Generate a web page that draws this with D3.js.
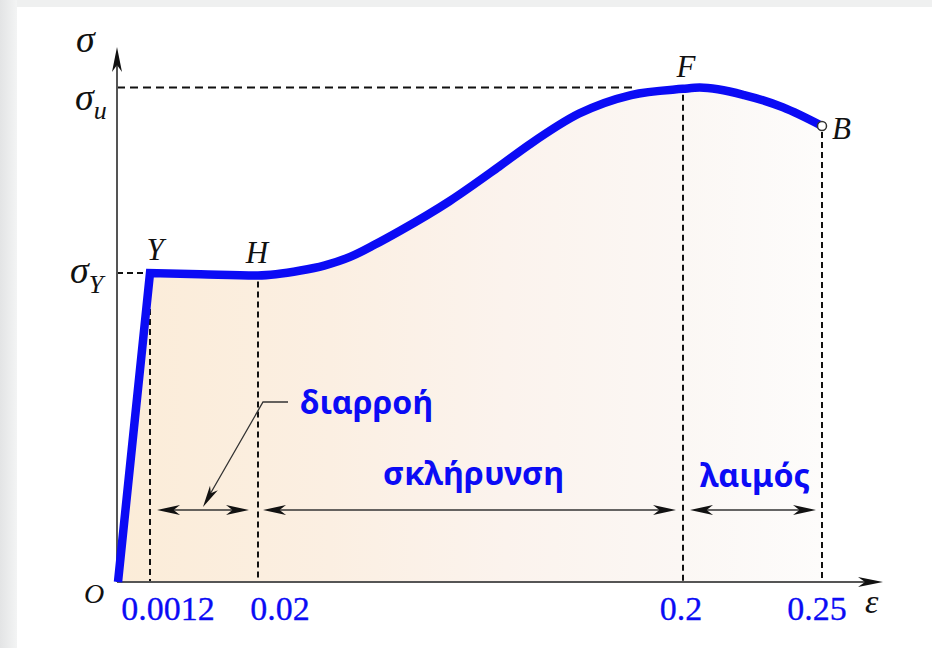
<!DOCTYPE html>
<html>
<head>
<meta charset="utf-8">
<script src="https://cdn.jsdelivr.net/npm/d3@7"></script>
<style>
  html, body { margin: 0; padding: 0; background: #fff; overflow: hidden; }
  svg { display: block; }
</style>
</head>
<body>
<svg id="chart" width="932" height="648"></svg>
<script>
// Engineering stress–strain curve of a ductile steel (schematic, strain axis not to scale)

// Curve samples: strain ε and stress σ (σ in arbitrary units, σY = 250, σu = 400)
const strain = [0, 0.0012, 0.01, 0.02, 0.038, 0.048, 0.059, 0.0695, 0.080, 0.101, 0.122, 0.135, 0.156, 0.178, 0.2, 0.206, 0.222, 0.236, 0.25];
const stress = [0, 250, 249, 248, 252, 256, 263, 273, 284, 308, 336, 354, 379, 394, 399, 400, 394, 384, 369];

const sigmaY = 250;
const sigmaU = 400;

// Strain axis ticks
const strainTicks = [0.0012, 0.02, 0.2, 0.25];
const tickLabels = ["0.0012", "0.02", "0.2", "0.25"];

// Named points on the curve
const pointNames = ["Y", "H", "F", "B"];
const pointStrain = [0.0012, 0.02, 0.2, 0.25];

// Regions of behaviour
const regionFrom = [0.0012, 0.02, 0.2];
const regionTo = [0.02, 0.2, 0.25];
const regionNames = ["διαρροή", "σκλήρυνση", "λαιμός"];

// ---------------------------------------------------------------------------
const svg = d3.select("#chart");
const W = 932, H = 648;
const BLUE = "#0b0bf5";
const serif = "'Liberation Serif', 'Times New Roman', serif";
const sans = "'Noto Sans', 'DejaVu Sans', sans-serif";

// Piecewise strain scale: each marked interval gets its own width
const x = d3.scaleLinear()
  .domain([0, 0.0012, 0.02, 0.2, 0.25])
  .range([118, 150, 258, 683, 822]);
const y = d3.scaleLinear().domain([0, sigmaU]).range([582, 87.6]);

const x0 = 117, y0 = y(0);

const defs = svg.append("defs");

// page backdrop: light grey frame at left and top
const lg = defs.append("linearGradient").attr("id", "sideGrad").attr("x1", 0).attr("x2", 1);
lg.append("stop").attr("offset", 0).attr("stop-color", "#e3e4e5");
lg.append("stop").attr("offset", 1).attr("stop-color", "#f3f4f4");
svg.append("rect").attr("x", 0).attr("y", 0).attr("width", W).attr("height", 7).attr("fill", "#eff0f0");
svg.append("rect").attr("x", 0).attr("y", 0).attr("width", 17).attr("height", H).attr("fill", "url(#sideGrad)");
svg.append("rect").attr("x", 17).attr("y", 7).attr("width", W - 17).attr("height", H - 7).attr("fill", "#ffffff");

// warm fill under the curve
const fg = defs.append("linearGradient").attr("id", "areaGrad")
  .attr("gradientUnits", "userSpaceOnUse")
  .attr("x1", x(0)).attr("x2", x(0.25)).attr("y1", 0).attr("y2", 0);
[[0, "#fbecd8"], [0.3, "#fbefe2"], [0.55, "#fbf3ed"], [0.8, "#fbf7f4"], [1, "#fdfcfb"]]
  .forEach(([o, c]) => fg.append("stop").attr("offset", o).attr("stop-color", c));

const pts = strain.map((e, i) => [x(e), y(stress[i])]);

// elastic part is straight, the rest is a smooth curve
const elastic = d3.line()(pts.slice(0, 2));
const plastic = d3.line().curve(d3.curveMonotoneX)(pts.slice(1));
const curvePath = elastic + "L" + plastic.slice(1);

svg.append("path")
  .attr("d", curvePath + `L${x(0.25)},${y0}Z`)
  .attr("fill", "url(#areaGrad)");

// dashed guide lines
const dash = (x1, y1, x2, y2, pattern) => svg.append("line")
  .attr("x1", x1).attr("y1", y1).attr("x2", x2).attr("y2", y2)
  .attr("stroke", "#111").attr("stroke-width", 2).attr("stroke-dasharray", pattern);

dash(x0, y(sigmaU), 632, y(sigmaU), "8,5");
dash(x0, y(sigmaY), x(0.0012) - 3, y(sigmaY), "6,4");
pointStrain.forEach((e) => {
  const k = strain.indexOf(e);
  dash(x(e), y(stress[k]) + 6, x(e), y0, "6,4");
});

// stealth-style arrowhead drawn at (tx,ty) pointing along angle a
function head(tx, ty, a, L, w, color) {
  const c = Math.cos(a), s = Math.sin(a);
  const p = (u, v) => [tx - u * c - v * s, ty - u * s + v * c];
  const P = [p(0, 0), p(L, -w), p(L * 0.72, 0), p(L, w)];
  svg.append("path")
    .attr("d", "M" + P.map(q => q.join(",")).join("L") + "Z")
    .attr("fill", color);
}

// axes
svg.append("line").attr("x1", x0).attr("y1", y0).attr("x2", x0).attr("y2", 60)
  .attr("stroke", "#555").attr("stroke-width", 2);
head(x0, 47, -Math.PI / 2, 25, 5, "#111");
svg.append("line").attr("x1", x0).attr("y1", y0).attr("x2", 870).attr("y2", y0)
  .attr("stroke", "#555").attr("stroke-width", 2);
head(883, y0, 0, 25, 5, "#111");

// the curve itself
svg.append("path")
  .attr("d", curvePath)
  .attr("fill", "none")
  .attr("stroke", BLUE)
  .attr("stroke-width", 8.5)
  .attr("stroke-linejoin", "miter");

// fracture point
svg.append("circle")
  .attr("cx", x(0.25)).attr("cy", y(stress[stress.length - 1]))
  .attr("r", 4.5).attr("fill", "#fff").attr("stroke", "#333").attr("stroke-width", 1.5);

// region dimension arrows
const arrowY = 510;
const pads = [[7, 9], [5, 7], [7, 6]];
regionFrom.forEach((a, i) => {
  const xa = x(a) + pads[i][0], xb = x(regionTo[i]) - pads[i][1];
  svg.append("line").attr("x1", xa + 10).attr("x2", xb - 10)
    .attr("y1", arrowY).attr("y2", arrowY)
    .attr("stroke", "#333").attr("stroke-width", 1.5);
  head(xa, arrowY, Math.PI, 23, 5, "#111");
  head(xb, arrowY, 0, 23, 5, "#111");
});

// region names
const regionText = [
  { x: 300, y: 414, len: 133 },
  { x: 383, y: 485, len: 181 },
  { x: 700, y: 487, len: 110 }
];
regionNames.forEach((t, i) => {
  svg.append("text")
    .attr("x", regionText[i].x).attr("y", regionText[i].y)
    .attr("font-family", sans).attr("font-weight", "bold").attr("font-size", 32)
    .attr("fill", BLUE)
    .attr("textLength", regionText[i].len).attr("lengthAdjust", "spacingAndGlyphs")
    .text(t);
});

// leader from the yield label to its arrow
const lx = 288, ly = 402, kx = 263, tipx = 203, tipy = 507;
svg.append("path")
  .attr("d", `M${lx},${ly}L${kx},${ly}L${tipx + 6},${tipy - 11}`)
  .attr("fill", "none").attr("stroke", "#333").attr("stroke-width", 1.3);
head(tipx, tipy, Math.atan2(tipy - ly, tipx - kx), 22, 4.5, "#111");

// strain tick labels
const tickDx = [18, 22, -2, -5];
strainTicks.forEach((e, i) => {
  svg.append("text")
    .attr("x", x(e) + tickDx[i]).attr("y", 620)
    .attr("text-anchor", "middle")
    .attr("font-family", serif).attr("font-size", 34)
    .attr("fill", BLUE)
    .attr("stroke", BLUE).attr("stroke-width", 0.3)
    .text(tickLabels[i]);
});

// point letters
const ptText = [
  { dx: 5, y: 260, anchor: "middle" },
  { dx: -1, y: 263, anchor: "middle" },
  { dx: 3, y: 77, anchor: "middle" },
  { dx: 10, y: 139, anchor: "start" }
];
pointNames.forEach((n, i) => {
  svg.append("text")
    .attr("x", x(pointStrain[i]) + ptText[i].dx).attr("y", ptText[i].y)
    .attr("text-anchor", ptText[i].anchor)
    .attr("font-family", serif).attr("font-style", "italic").attr("font-size", 31)
    .attr("fill", "#111")
    .text(n);
});

// axis symbols
const ital = (tx, ty, size) => svg.append("text")
  .attr("x", tx).attr("y", ty)
  .attr("font-family", serif).attr("font-style", "italic").attr("font-size", size)
  .attr("fill", "#111");

ital(76, 52, 38).text("σ");
const su = ital(75, y(sigmaU) + 22, 38);
su.append("tspan").text("σ");
su.append("tspan").attr("font-size", 26).attr("dy", 9).text("u");
const sy = ital(70, y(sigmaY) + 10, 38);
sy.append("tspan").text("σ");
sy.append("tspan").attr("font-size", 26).attr("dy", 10).text("Y");
ital(84, 603, 28).text("O");
ital(865, 613, 34).text("ε");
</script>
</body>
</html>
